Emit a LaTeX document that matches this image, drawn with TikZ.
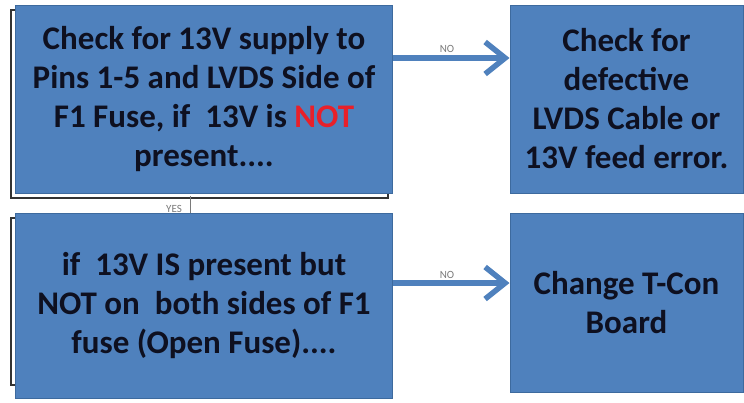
\documentclass[tikz,border=0pt]{standalone}
\usepackage{fontspec}
\setmainfont{Carlito}
\usetikzlibrary{arrows.meta}
\definecolor{boxblue}{HTML}{4F81BD}
\definecolor{boxedge}{HTML}{3D6A9E}
\definecolor{txt}{HTML}{0E1020}
\definecolor{notred}{HTML}{E8202A}
\definecolor{lbl}{HTML}{7A7A7A}
\tikzset{
  flowbox/.style={draw=boxedge, line width=1pt, fill=boxblue, text=txt,
    font=\bfseries\fontsize{33}{39}\selectfont, align=center, inner sep=0pt},
  shadowline/.style={draw=black!80, line width=1.3pt},
  flowarrow/.style={draw=boxblue, line width=5.5pt,
    -{Straight Barb[length=20pt,width=32pt,line width=5.5pt]}},
  smalllbl/.style={text=lbl, font=\fontsize{11}{13}\selectfont, inner sep=0pt}
}
\begin{document}
\begin{tikzpicture}[x=1pt,y=-1pt]
\useasboundingbox (0,0) rectangle (744,402);
% outline frames behind left boxes
\draw[shadowline] (11,10) rectangle (388,198);
\draw[shadowline] (11,218) rectangle (388,385);
% YES connector
\draw[draw=lbl, line width=1pt] (190,196) -- (190,214);
\node[smalllbl] (yes) at (174,209) {YES};
% boxes
\node[flowbox, minimum width=377pt, minimum height=188pt] (A) at (204,99)
  {Check for 13V supply to\\Pins 1-5 and LVDS Side of\\F1 Fuse, if\ \ 13V is \textcolor{notred}{NOT}\\present....};
\node[flowbox, minimum width=377pt, minimum height=185pt] (B) at (204,305.5)
  {if\ \ 13V IS present but\\NOT on\ \ both sides of F1\\fuse (Open Fuse)....};
\node[flowbox, minimum width=233pt, minimum height=188pt] (C) at (626.5,99)
  {Check for\\defective\\LVDS Cable or\\13V feed error.};
\node[flowbox, minimum width=233pt, minimum height=179pt] (D) at (626.5,302.5)
  {Change T-Con\\Board};
% arrows
\draw[flowarrow] ([yshift=41pt]A.east) -- ([yshift=41pt]C.west);
\draw[flowarrow] ([yshift=22.5pt]B.east) -- ([yshift=19.5pt]D.west);
\node[smalllbl] (no1) at (447,49) {NO};
\node[smalllbl] (no2) at (447,275) {NO};
\end{tikzpicture}
\end{document}
